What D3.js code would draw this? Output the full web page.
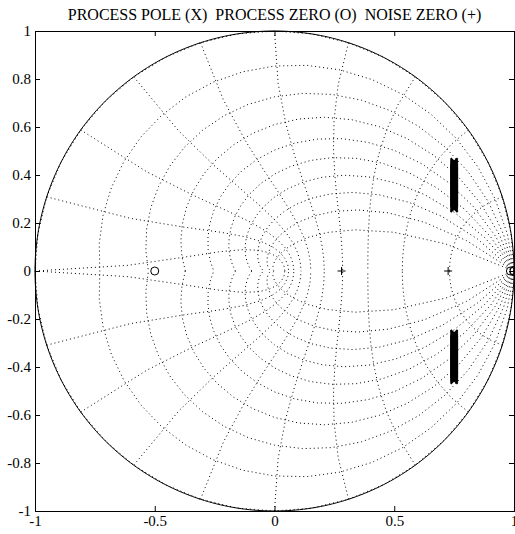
<!DOCTYPE html>
<html lang="en">
<head>
    <meta charset="UTF-8">
    <title>Pole-zero map</title>
    <script src="https://cdn.jsdelivr.net/npm/d3@7/dist/d3.min.js"></script>
    <style>
        body { margin: 0; background: #fff; }
        text { font-family: "Liberation Serif", "Times New Roman", serif; fill: #000; }
        .axis path, .axis line { stroke: #000; stroke-width: 1; }
        .grid { fill: none; stroke: #000; stroke-width: 1; stroke-dasharray: 1 3; }
        .mark { fill: none; stroke: #000; stroke-width: 1; }
        .pole { stroke-width: 2; }
    </style>
</head>
<body>

<svg width="515" height="534"></svg>

<script>

    // zgrid values (damping ratio and normalised natural frequency)
    var zetaValues = [0, 0.1, 0.2, 0.3, 0.4, 0.5, 0.6, 0.7, 0.8, 0.9];
    var wnValues = [0, 0.1, 0.2, 0.3, 0.4, 0.5, 0.6, 0.7, 0.8, 0.9, 1];

    // process poles (x), a complex pair swept along the imaginary direction
    var poleReal = 0.75;
    var poleImag = [0.26, 0.265, 0.27, 0.275, 0.28, 0.285, 0.29, 0.295, 0.30, 0.305,
                    0.31, 0.315, 0.32, 0.325, 0.33, 0.335, 0.34, 0.345, 0.35, 0.355,
                    0.36, 0.365, 0.37, 0.375, 0.38, 0.385, 0.39, 0.395, 0.40, 0.405,
                    0.41, 0.415, 0.42, 0.425, 0.43, 0.435, 0.44, 0.445, 0.45, 0.455];

    // process zeros (o) and noise zeros (+), all on the real axis
    var processZeros = [-0.5, 0.985, 1.0];
    var noiseZeros = [0.28, 0.725];

    var xTicks = [-1, -0.5, 0, 0.5, 1];
    var yTicks = [-1, -0.8, -0.6, -0.4, -0.2, 0, 0.2, 0.4, 0.6, 0.8, 1];

    var plotLeft = 35, plotRight = 514, plotTop = 31, plotBottom = 511;

    var svg = d3.select("svg");
    var x = d3.scaleLinear().domain([-1, 1]).range([plotLeft, plotRight]);
    var y = d3.scaleLinear().domain([-1, 1]).range([plotBottom, plotTop]);

    var line = d3.line()
            .x(function(d) { return x(d[0]); })
            .y(function(d) { return y(d[1]); });

    function conj(pts) {
        return pts.map(function(p) { return [p[0], -p[1]]; });
    }

    function label(d) {
        return String(d);
    }

    // damping lines: z = exp(t * (-m + i)), t = 0..pi
    var steps = d3.range(0, 21).map(function(k) { return k * Math.PI / 20; });
    var curves = [];
    zetaValues.forEach(function(zeta) {
        var m = Math.tan(Math.asin(zeta));
        var pts = steps.map(function(t) {
            var r = Math.exp(-m * t);
            return [r * Math.cos(t), r * Math.sin(t)];
        });
        curves.push(pts, conj(pts));
    });

    // natural frequency lines: z = exp(wn * pi * e^{i th}), th = pi/2..pi
    var thetas = d3.range(10, 21).map(function(k) { return k * Math.PI / 20; });
    wnValues.forEach(function(wn) {
        var pts = thetas.map(function(th) {
            var r = Math.exp(wn * Math.PI * Math.cos(th));
            var a = wn * Math.PI * Math.sin(th);
            return [r * Math.cos(a), r * Math.sin(a)];
        });
        curves.push(pts, conj(pts));
    });

    svg.append("g")
            .selectAll("path")
            .data(curves)
            .enter()
            .append("path")
            .attr("class", "grid")
            .attr("d", line);

    // unit circle
    var circlePts = d3.range(0, 361).map(function(k) {
        var a = k * Math.PI / 180;
        return [Math.cos(a), Math.sin(a)];
    });
    svg.append("path")
            .attr("class", "mark")
            .attr("d", line(circlePts));

    // axes with inward ticks on all four sides
    svg.append("g")
            .attr("class", "axis")
            .attr("transform", "translate(0," + plotBottom + ")")
            .call(d3.axisBottom(x).tickValues(xTicks).tickSize(-5).tickPadding(4).tickFormat(label));

    svg.append("g")
            .attr("class", "axis")
            .attr("transform", "translate(0," + plotTop + ")")
            .call(d3.axisTop(x).tickValues(xTicks).tickSize(-5).tickFormat(""));

    svg.append("g")
            .attr("class", "axis")
            .attr("transform", "translate(" + plotLeft + ",0)")
            .call(d3.axisLeft(y).tickValues(yTicks).tickSize(-5).tickPadding(4).tickFormat(label));

    svg.append("g")
            .attr("class", "axis")
            .attr("transform", "translate(" + plotRight + ",0)")
            .call(d3.axisRight(y).tickValues(yTicks).tickSize(-5).tickFormat(""));

    svg.selectAll(".axis .domain").attr("fill", "none");
    svg.selectAll(".axis text")
            .attr("font-family", null)
            .attr("font-size", null)
            .style("font-size", "15px")
            .attr("fill", "#000");

    // poles (x), plus the conjugate
    var poles = [];
    poleImag.forEach(function(v) {
        poles.push([poleReal, v], [poleReal, -v]);
    });
    var s = 3.5;
    svg.append("g")
            .selectAll("path.pole")
            .data(poles)
            .enter()
            .append("path")
            .attr("class", "mark pole")
            .attr("d", function(d) {
                var cx = x(d[0]), cy = y(d[1]);
                return "M" + (cx - s) + "," + (cy - s) + "L" + (cx + s) + "," + (cy + s) +
                       "M" + (cx - s) + "," + (cy + s) + "L" + (cx + s) + "," + (cy - s);
            });

    svg.append("g")
            .selectAll("circle")
            .data(processZeros)
            .enter()
            .append("circle")
            .attr("class", "mark")
            .attr("r", 4)
            .attr("cx", function(d) { return x(d); })
            .attr("cy", y(0));

    var p = 4;
    svg.append("g")
            .selectAll("path.noise")
            .data(noiseZeros)
            .enter()
            .append("path")
            .attr("class", "mark noise")
            .attr("d", function(d) {
                var cx = x(d), cy = y(0);
                return "M" + (cx - p) + "," + cy + "L" + (cx + p) + "," + cy +
                       "M" + cx + "," + (cy - p) + "L" + cx + "," + (cy + p);
            });

    svg.append("text")
            .attr("x", (plotLeft + plotRight) / 2)
            .attr("y", 20)
            .attr("text-anchor", "middle")
            .style("font-size", "16px")
            .style("white-space", "pre")
            .text("PROCESS POLE (X)  PROCESS ZERO (O)  NOISE ZERO (+)");

</script>

</body>
</html>
